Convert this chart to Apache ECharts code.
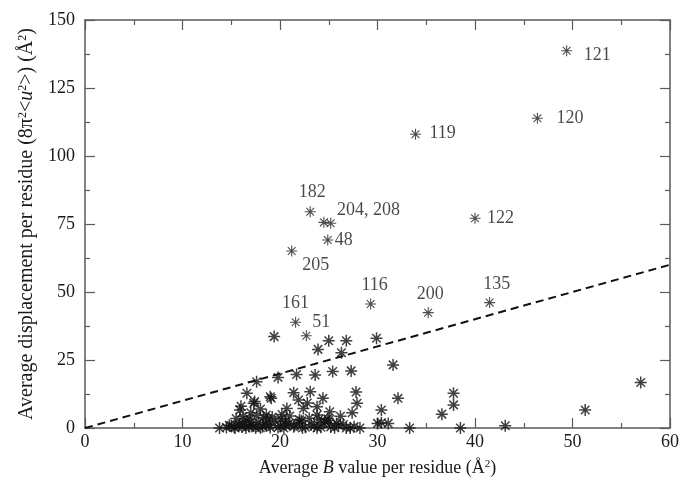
<!DOCTYPE html>
<html>
<head>
<meta charset="utf-8">
<script src="https://cdn.jsdelivr.net/npm/echarts@6/dist/echarts.min.js"></script>
<style>
  html, body { margin: 0; padding: 0; background: #fff; }
  #container { width: 682px; height: 492px; }
</style>
</head>
<body>
<div id="container"></div>
<script>
    var dom = document.getElementById('container');
    var myChart = echarts.init(dom, null, {
      renderer: 'canvas',
      useDirtyRect: false
    });

    // unlabelled residues: average B value vs average displacement
    var bValues = [
      19.4, 25.0, 23.9, 26.8, 26.3, 29.9, 31.6,
      32.1, 37.8, 37.8, 36.6, 33.3, 38.5, 30.4, 31.1, 30.4, 43.1, 51.3, 57.0,
      17.6, 19.8, 21.7, 23.6, 25.4, 27.3,
      27.8, 27.9, 27.4, 23.1, 21.4, 28.2, 30.0, 25.8,
      15.9, 17.3, 16.6, 19.1, 17.4, 20.7, 22.4, 18.6, 23.8, 25.1, 24.4, 13.8,
      21.9, 23.8, 19.0, 16.0, 17.0, 18.0, 20.2, 22.8, 24.9, 26.2,
      14.5, 15.0, 15.4, 15.8, 16.1, 16.4, 16.8, 17.1, 17.5, 17.8, 18.2, 18.6,
      19.0, 19.5, 20.0, 20.4, 20.9, 21.4, 22.0, 22.6, 23.2, 23.8, 24.5, 25.2,
      26.0, 26.8, 27.6,
      14.8, 15.3, 15.9, 16.5, 17.3, 18.0, 18.9, 19.8, 20.6, 21.5, 22.3, 23.5,
      24.2, 25.6, 26.5, 27.2,
      15.5, 16.2, 16.9, 17.6, 18.3, 19.2, 20.1, 21.0, 22.0, 23.0, 24.0, 25.0,
      16.6, 18.7, 20.6, 22.2, 24.6
    ];
    var dispValues = [
      33.6, 32.1, 28.9, 32.1, 27.7, 33.0, 23.2,
      10.9, 12.8, 8.5, 5.1, 0.0, 0.0, 6.6, 1.7, 1.9, 0.8, 6.6, 16.7,
      17.0, 18.6, 19.7, 19.5, 20.8, 21.0,
      13.2, 9.1, 5.6, 13.3, 13.0, 0.0, 1.7, 1.7,
      6.6, 9.1, 12.8, 10.9, 9.7, 7.2, 7.2, 4.8, 4.8, 6.0, 10.9, 0.0,
      10.3, 7.8, 11.5, 8.0, 5.6, 7.0, 5.0, 9.2, 3.4, 4.3,
      0.2, 0.8, 0.0, 1.5, 0.4, 2.2, 0.6, 1.2, 0.0, 2.0, 0.5, 1.4,
      0.2, 2.4, 0.8, 0.0, 1.6, 0.5, 2.0, 0.3, 1.2, 0.0, 1.8, 0.4,
      0.9, 0.0, 0.5,
      1.0, 0.3, 1.1, 0.0, 0.7, 0.1, 1.0, 0.2, 1.1, 0.9, 0.0, 0.7,
      0.3, 0.1, 1.3, 0.0,
      3.5, 4.2, 3.2, 4.6, 3.8, 4.0, 3.4, 4.4, 3.0, 3.6, 3.2, 2.8,
      2.6, 2.9, 2.5, 2.7, 2.4
    ];

    // labelled residues
    var labelNames = ['121', '120', '119', '122', '182', '204, 208', '', '48', '205', '116', '200', '135', '161', '51'];
    var labelB = [49.4, 46.4, 33.9, 40.0, 23.1, 24.5, 25.2, 24.9, 21.2, 29.3, 35.2, 41.5, 21.6, 22.7];
    var labelDisp = [138.7, 113.9, 108.0, 77.1, 79.5, 75.6, 75.3, 69.1, 65.1, 45.6, 42.4, 46.1, 38.9, 33.9];

    // reference line y = x
    var refLineB = [0, 60];
    var refLineDisp = [0, 60];

    var xTicks = [0, 10, 20, 30, 40, 50, 60];
    var yTicks = [0, 25, 50, 75, 100, 125, 150];

    // where each label sits relative to its star (pixels)
    var labelPlacement = {
      '121': { align: 'left', offset: [17, 5] },
      '120': { align: 'left', offset: [19, 0] },
      '119': { align: 'left', offset: [14, -1] },
      '122': { align: 'left', offset: [12, 0] },
      '182': { align: 'center', offset: [2, -19] },
      '204, 208': { align: 'left', offset: [13, -12] },
      '48': { align: 'left', offset: [7, 0] },
      '205': { align: 'center', offset: [24, 14] },
      '116': { align: 'center', offset: [4, -19] },
      '200': { align: 'center', offset: [2, -18] },
      '135': { align: 'center', offset: [7, -18] },
      '161': { align: 'center', offset: [0, -19] },
      '51': { align: 'center', offset: [15, -14] }
    };

    var star = 'path://M10 0 L10 20 M0 10 L20 10 M2.93 2.93 L17.07 17.07 M2.93 17.07 L17.07 2.93';
    var serif = '"Liberation Serif", "DejaVu Serif", serif';
    var ink = '#1a1a1a';
    var axisGrey = '#5a5a5a';

    var points = bValues.map(function (b, i) { return [b, dispValues[i]]; });
    var labelled = labelB.map(function (b, i) {
      var name = labelNames[i];
      var item = { value: [b, labelDisp[i]], name: name };
      if (name && labelPlacement[name]) {
        item.label = {
          show: true,
          position: 'inside',
          formatter: name,
          align: labelPlacement[name].align,
          verticalAlign: 'middle',
          offset: labelPlacement[name].offset
        };
      }
      return item;
    });
    var refLine = refLineB.map(function (b, i) { return [b, refLineDisp[i]]; });

    function tickAxis(extra) {
      return Object.assign({
        type: 'value',
        axisLine: { show: true, onZero: false, lineStyle: { color: axisGrey, width: 1.5 } },
        axisTick: { show: true, inside: true, length: 10, lineStyle: { color: axisGrey, width: 1.2 } },
        minorTick: { show: true, splitNumber: 2, length: 5, lineStyle: { color: axisGrey, width: 1.2 } },
        splitLine: { show: false }
      }, extra);
    }

    function nameRich(size, supSize) {
      return {
        i: { fontStyle: 'italic', fontFamily: serif, fontSize: size, color: ink },
        s: { fontSize: supSize, fontFamily: serif, color: ink, verticalAlign: 'top', padding: [0, 0, 7, 0] }
      };
    }

    var option = {
      animation: false,
      backgroundColor: '#fff',
      grid: { left: 85, right: 12, top: 20, bottom: 64 },
      xAxis: [
        tickAxis({
          position: 'bottom',
          min: xTicks[0], max: xTicks[xTicks.length - 1], interval: 10,
          axisLabel: { color: ink, fontFamily: serif, fontSize: 18, margin: 5 },
          name: 'Average {i|B} value per residue (Å{s|2})',
          nameLocation: 'middle',
          nameGap: 31,
          nameTextStyle: { color: ink, fontFamily: serif, fontSize: 18, rich: nameRich(18, 11) }
        }),
        tickAxis({
          position: 'top',
          min: xTicks[0], max: xTicks[xTicks.length - 1], interval: 10,
          axisLabel: { show: false }
        })
      ],
      yAxis: [
        tickAxis({
          position: 'left',
          min: yTicks[0], max: yTicks[yTicks.length - 1], interval: 25,
          axisLabel: { color: ink, fontFamily: serif, fontSize: 18, margin: 10 },
          name: 'Average displacement per residue (8π{s|2}<{i|u}{s|2}>) (Å{s|2})',
          nameLocation: 'middle',
          nameRotate: 90,
          nameGap: 47,
          nameTextStyle: { color: ink, fontFamily: serif, fontSize: 20, rich: nameRich(20, 12) }
        }),
        tickAxis({
          position: 'right',
          min: yTicks[0], max: yTicks[yTicks.length - 1], interval: 25,
          axisLabel: { show: false }
        })
      ],
      series: [
        {
          type: 'line',
          data: refLine,
          symbol: 'none',
          silent: true,
          lineStyle: { color: '#111', width: 2, type: [8, 5] }
        },
        {
          type: 'scatter',
          data: points,
          symbol: star,
          symbolSize: 12,
          silent: true,
          itemStyle: { color: 'rgba(0,0,0,0)', borderColor: '#111', borderWidth: 1.5 }
        },
        {
          type: 'scatter',
          data: labelled,
          symbol: star,
          symbolSize: 11,
          silent: true,
          itemStyle: { color: 'rgba(0,0,0,0)', borderColor: '#222', borderWidth: 1.1 },
          label: {
            show: false,
            color: ink,
            fontFamily: serif,
            fontSize: 18
          }
        }
      ]
    };

    if (option && typeof option === 'object') {
      myChart.setOption(option);
    }

    window.addEventListener('resize', myChart.resize);
</script>
</body>
</html>
